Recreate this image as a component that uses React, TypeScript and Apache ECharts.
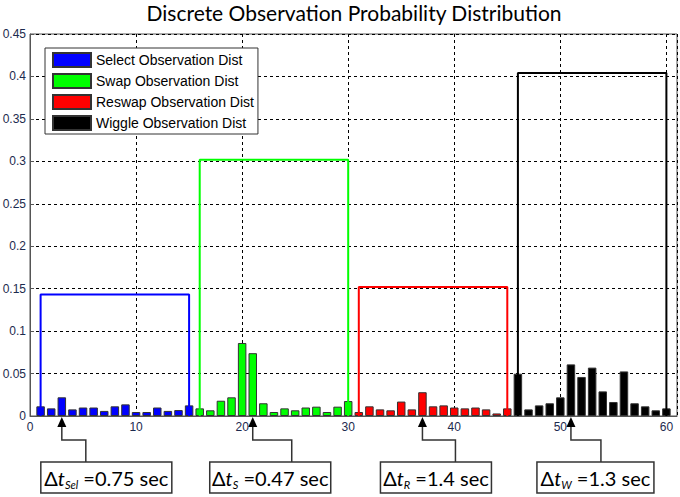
import React, { useEffect, useRef } from "react";
import * as echarts from "echarts";

// ---- data ----
const selectBins = [1, 2, 3, 4, 5, 6, 7, 8, 9, 10, 11, 12, 13, 14, 15];
const selectValues = [0.0114, 0.009, 0.022, 0.0078, 0.01, 0.01, 0.006, 0.0114, 0.0137, 0.0047, 0.0047, 0.01, 0.006, 0.007, 0.0125];

const swapBins = [16, 17, 18, 19, 20, 21, 22, 23, 24, 25, 26, 27, 28, 29, 30];
const swapValues = [0.009, 0.0067, 0.018, 0.022, 0.086, 0.074, 0.015, 0.0047, 0.009, 0.0067, 0.01, 0.011, 0.0047, 0.011, 0.0176];

const reswapBins = [31, 32, 33, 34, 35, 36, 37, 38, 39, 40, 41, 42, 43, 44, 45];
const reswapValues = [0.0047, 0.0114, 0.0078, 0.0067, 0.017, 0.0078, 0.028, 0.0114, 0.0125, 0.01, 0.009, 0.01, 0.0078, 0.003, 0.009];

const wiggleBins = [46, 47, 48, 49, 50, 51, 52, 53, 54, 55, 56, 57, 58, 59, 60];
const wiggleValues = [0.0498, 0.0078, 0.0125, 0.015, 0.022, 0.0608, 0.046, 0.057, 0.029, 0.0165, 0.0525, 0.015, 0.0114, 0.0067, 0.009];

const seriesNames = [
  "Select Observation Dist",
  "Swap Observation Dist",
  "Reswap Observation Dist",
  "Wiggle Observation Dist",
];
const envelopeHeights = [0.143, 0.302, 0.152, 0.404];
const arrowBins = [3, 21, 37, 51];
const annotationSubs = ["Sel", "S", "R", "W"];
const annotationValues = ["0.75", "0.47", "1.4", "1.3"];

const yTicks = { min: 0, max: 0.45, interval: 0.05 };
const xTicks = { min: 0, max: 61, interval: 10 };

// ---- styling / layout ----
const colors = ["#0000ff", "#00ff00", "#ff0000", "#000000"];
const labelColor = "#1c2a4e";
const annotLayout = [
  { elbowDx: 24, boxDx: -21, boxW: 131 },
  { elbowDx: 39, boxDx: -43, boxW: 121 },
  { elbowDx: 33, boxDx: -42, boxW: 111 },
  { elbowDx: 30, boxDx: -34, boxW: 117 },
];

export default function App() {
  const ref = useRef<HTMLDivElement>(null);

  useEffect(() => {
    if (!ref.current) return;
    const chart = echarts.init(ref.current, null, { renderer: "svg" });
    const groups = [
      { bins: selectBins, values: selectValues },
      { bins: swapBins, values: swapValues },
      { bins: reswapBins, values: reswapValues },
      { bins: wiggleBins, values: wiggleValues },
    ];

    const barSeries = groups.map((g, i) => ({
      name: seriesNames[i],
      type: "bar",
      barWidth: 8.5,
      barGap: "-100%",
      data: g.bins.map((b, j) => [b, g.values[j]]),
      itemStyle: { color: colors[i], borderColor: "#333", borderWidth: 1 },
      z: 2,
    }));

    const envSeries = groups.map((g, i) => {
      const a = g.bins[0];
      const b = g.bins[g.bins.length - 1];
      const h = envelopeHeights[i];
      return {
        name: "env" + i,
        type: "line",
        data: [
          [a, 0],
          [a, h],
          [b, h],
          [b, 0],
        ],
        symbol: "none",
        silent: true,
        lineStyle: { color: colors[i], width: 2 },
        z: 4,
      };
    });

    chart.setOption({
      animation: false,
      backgroundColor: "#ffffff",
      title: {
        text: "Discrete Observation Probability Distribution",
        left: 354,
        textAlign: "center",
        top: 2,
        padding: 0,
        textStyle: { fontFamily: "Lato", fontSize: 21, fontWeight: "normal", color: "#000" },
      },
      legend: {
        data: seriesNames.map((n) => ({ name: n, icon: "rect" })),
        orient: "vertical",
        left: 45,
        top: 48,
        itemWidth: 38,
        itemHeight: 14,
        itemGap: 5,
        padding: [4, 4, 3, 7],
        borderColor: "#333",
        borderWidth: 1,
        backgroundColor: "#fff",
        selectedMode: false,
        textStyle: { fontFamily: "Liberation Sans", fontSize: 14, color: "#000", lineHeight: 15 },
        z: 10,
      },
      grid: {
        left: 30,
        right: 3,
        top: 34,
        bottom: 81,
        show: true,
        borderColor: "#555",
        borderWidth: 1,
        outerBoundsMode: "none",
      },
      xAxis: {
        type: "value",
        min: xTicks.min,
        max: xTicks.max,
        interval: xTicks.interval,
        axisLine: { show: true, lineStyle: { color: "#555" } },
        axisTick: { show: true, inside: true, length: 4, lineStyle: { color: "#555" } },
        axisLabel: {
          showMaxLabel: false,
          color: labelColor,
          fontFamily: "Liberation Sans",
          fontSize: 12,
          margin: 5,
        },
        splitLine: { show: true, lineStyle: { color: "#000", type: [3, 3], width: 1 } },
      },
      yAxis: {
        type: "value",
        min: yTicks.min,
        max: yTicks.max,
        interval: yTicks.interval,
        axisLine: { show: true, lineStyle: { color: "#555" } },
        axisTick: { show: true, inside: true, length: 4, lineStyle: { color: "#555" } },
        axisLabel: {
          color: labelColor,
          fontFamily: "Liberation Sans",
          fontSize: 12,
          margin: 4,
        },
        splitLine: { show: true, lineStyle: { color: "#000", type: [3, 3], width: 1 } },
      },
      series: [...barSeries, ...envSeries],
    });

    // annotations placed from data coordinates
    const graphics: any[] = [];
    arrowBins.forEach((bin, i) => {
      const [px, py] = chart.convertToPixel({ gridIndex: 0 }, [bin, 0]) as number[];
      const L = annotLayout[i];
      const elbowY = py + 24;
      const boxTop = py + 46;
      const boxH = 31;
      const ex = px + L.elbowDx;
      graphics.push({
        type: "polyline",
        shape: {
          points: [
            [ex, boxTop],
            [ex, elbowY],
            [px, elbowY],
            [px, py + 8],
          ],
        },
        style: { stroke: "#333", lineWidth: 1.5, fill: null },
        z: 20,
      });
      graphics.push({
        type: "polygon",
        shape: {
          points: [
            [px, py + 1],
            [px - 4.5, py + 11],
            [px + 4.5, py + 11],
          ],
        },
        style: { fill: "#000" },
        z: 21,
      });
      const bx = px + L.boxDx;
      graphics.push({
        type: "rect",
        shape: { x: bx, y: boxTop, width: L.boxW, height: boxH },
        style: { fill: "#fff", stroke: "#333", lineWidth: 1.5 },
        z: 20,
      });
      graphics.push({
        type: "text",
        x: bx + L.boxW / 2,
        y: boxTop + boxH / 2,
        style: {
          text: `{d|Δ}{t|t}{s|${annotationSubs[i]}}{n| =${annotationValues[i]} sec}`,
          align: "center",
          verticalAlign: "middle",
          rich: {
            d: { fontFamily: "Lato", fontSize: 20, lineHeight: 24, fill: "#000", verticalAlign: "middle" },
            t: { fontFamily: "Lato", fontSize: 20, fontStyle: "italic", lineHeight: 24, fill: "#000", verticalAlign: "middle" },
            s: { fontFamily: "Lato", fontSize: 11, fontStyle: "italic", lineHeight: 11, fill: "#000", verticalAlign: "bottom" },
            n: { fontFamily: "Lato", fontSize: 20, lineHeight: 24, fill: "#000", verticalAlign: "middle" },
          },
        },
        z: 22,
      });
    });
    chart.setOption({ graphic: graphics });

    return () => chart.dispose();
  }, []);

  return (
    <div
      ref={ref}
      style={{ position: "fixed", left: 0, top: 0, width: 680, height: 497, background: "#fff" }}
    />
  );
}
